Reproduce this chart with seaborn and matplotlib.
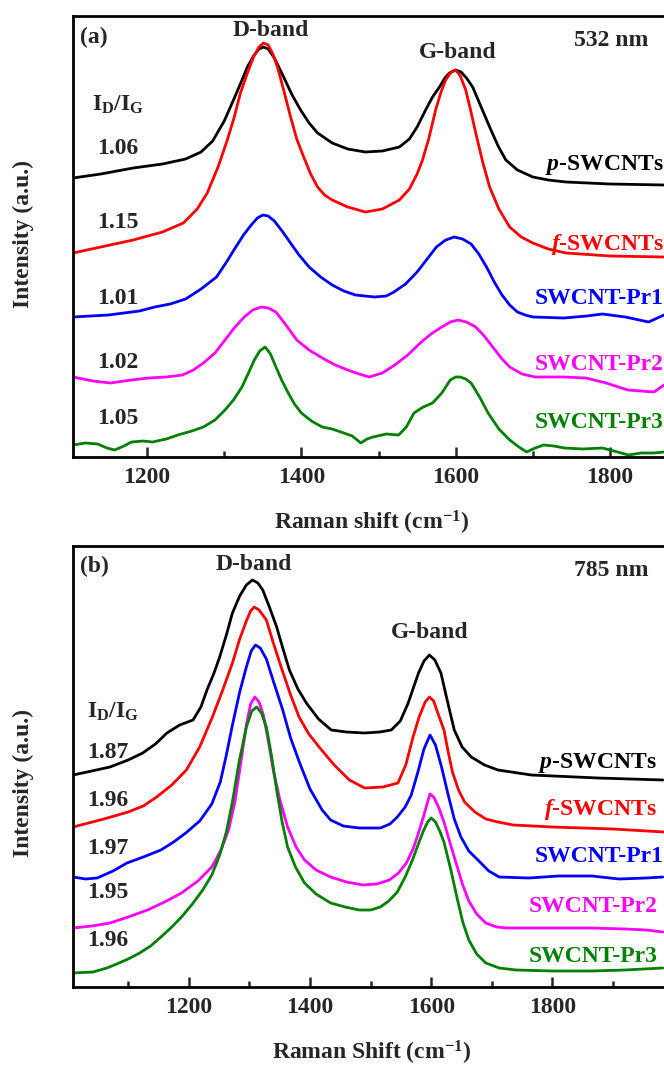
import numpy as np
import pandas as pd
import matplotlib
matplotlib.use("Agg")
import matplotlib.pyplot as plt
from matplotlib.ticker import MultipleLocator
import seaborn as sns

# ---------------- data ----------------
samples = ["p-SWCNTs", "f-SWCNTs", "SWCNT-Pr1", "SWCNT-Pr2", "SWCNT-Pr3"]
sample_labels = [r"$\mathit{p}$-SWCNTs", r"$\mathit{f}$-SWCNTs",
                 "SWCNT-Pr1", "SWCNT-Pr2", "SWCNT-Pr3"]
colors = ["#000000", "#FF0000", "#0000FF", "#FF00FF", "#008000"]

ratio_532 = ["1.06", "1.15", "1.01", "1.02", "1.05"]
ratio_785 = ["1.87", "1.96", "1.97", "1.95", "1.96"]

# 532 nm spectra (stacked intensity, a.u.)
w532_p = [1104, 1140, 1182, 1220, 1250, 1270, 1285, 1300, 1312, 1322, 1330, 1338, 1345, 1351, 1357, 1365,
          1377, 1388, 1399, 1410, 1421, 1440, 1460, 1483, 1505, 1527, 1540, 1550, 1561, 1570, 1579, 1586,
          1592, 1600, 1607, 1614, 1622, 1633, 1644, 1655, 1665, 1680, 1700, 1720, 1743, 1800, 1870]
i532_p = [279, 283, 289, 293, 298, 305, 316, 336, 357, 375, 390, 401, 408, 410, 408, 399,
          380, 362, 347, 334, 324, 314, 308, 305, 306, 310, 318, 330, 347, 360, 370, 379,
          384, 387, 385, 379, 370, 350, 330, 311, 297, 287, 280, 277, 275, 273, 272]

w532_f = [1104, 1140, 1182, 1220, 1247, 1265, 1278, 1292, 1304, 1313, 1321, 1330, 1338, 1345, 1351, 1357,
          1363, 1369, 1377, 1386, 1394, 1403, 1412, 1421, 1430, 1440, 1460, 1483, 1505, 1527, 1540, 1550,
          1557, 1565, 1574, 1581, 1587, 1594, 1600, 1606, 1613, 1619, 1626, 1635, 1644, 1656, 1670, 1685,
          1700, 1720, 1743, 1800, 1870]
i532_f = [204, 210, 217, 225, 234, 248, 264, 290, 317, 340, 364, 384, 400, 410, 414, 412,
          403, 390, 367, 340, 318, 300, 283, 270, 262, 257, 250, 245, 248, 257, 268, 283,
          297, 318, 347, 365, 377, 385, 387, 381, 367, 348, 324, 295, 270, 248, 230, 220,
          214, 208, 204, 201, 200]

w532_1 = [1104, 1150, 1190, 1210, 1230, 1250, 1270, 1290, 1303, 1315, 1325, 1335, 1343, 1350, 1357, 1365,
          1375, 1385, 1397, 1410, 1425, 1440, 1455, 1470, 1495, 1510, 1520, 1535, 1550, 1563, 1575, 1587,
          1598, 1609, 1620, 1630, 1640, 1650, 1660, 1670, 1680, 1690, 1700, 1740, 1770, 1790, 1820, 1850,
          1870]
i532_1 = [140, 142, 146, 150, 153, 158, 168, 180, 195, 210, 222, 232, 239, 242, 241, 236,
          226, 215, 202, 190, 180, 172, 166, 162, 160, 161, 165, 173, 185, 198, 210, 217,
          220, 218, 213, 203, 190, 175, 162, 152, 145, 142, 140, 139, 141, 143, 140, 135,
          142]

w532_2 = [1104, 1130, 1152, 1180, 1202, 1225, 1246, 1260, 1273, 1288, 1301, 1314, 1326, 1337, 1348, 1357,
          1367, 1380, 1394, 1410, 1427, 1444, 1460, 1475, 1488, 1505, 1521, 1538, 1554, 1568, 1582, 1593,
          1603, 1614, 1626, 1637, 1648, 1659, 1670, 1686, 1703, 1740, 1769, 1795, 1823, 1857, 1870]
i532_2 = [80, 76, 74, 77, 79, 80, 82, 87, 94, 104, 117, 130, 140, 147, 150, 149,
          145, 132, 117, 107, 99, 92, 87, 83, 80, 84, 92, 102, 114, 123, 130, 135,
          137, 135, 130, 121, 110, 99, 90, 83, 80, 80, 79, 74, 67, 65, 72]

w532_3 = [1104, 1120, 1136, 1148, 1158, 1170, 1180, 1195, 1207, 1225, 1240, 1258, 1273, 1288, 1301, 1312,
          1323, 1332, 1339, 1346, 1353, 1360, 1367, 1375, 1383, 1391, 1400, 1413, 1427, 1440, 1455, 1466,
          1477, 1485, 1493, 1510, 1526, 1536, 1546, 1558, 1570, 1582, 1593, 1600, 1606, 1613, 1620, 1631,
          1642, 1656, 1670, 1682, 1692, 1703, 1714, 1727, 1741, 1765, 1790, 1805, 1824, 1840, 1857, 1870]
i532_3 = [12, 14, 13, 9, 7, 11, 15, 16, 15, 18, 22, 26, 30, 37, 47, 57,
          70, 85, 97, 106, 110, 103, 90, 76, 64, 53, 44, 36, 30, 28, 24, 21,
          14, 18, 20, 23, 22, 30, 44, 50, 54, 64, 77, 80, 80, 78, 74, 60,
          44, 28, 17, 10, 5, 9, 12, 11, 9, 8, 9, 6, 2, 4, 4, 5]

# 785 nm spectra (stacked intensity, a.u.)
w785_p = [1009, 1040, 1070, 1100, 1124, 1145, 1164, 1185, 1207, 1220, 1230, 1241, 1251, 1262, 1272, 1284,
          1295, 1305, 1314, 1322, 1333, 1345, 1356, 1366, 1380, 1394, 1414, 1435, 1460, 1490, 1515, 1534,
          1549, 1562, 1571, 1579, 1588, 1597, 1606, 1616, 1627, 1638, 1651, 1666, 1688, 1710, 1765, 1875,
          1982]
i785_p = [212, 216, 220, 227, 234, 243, 254, 262, 267, 280, 297, 313, 330, 352, 374, 391,
          402, 407, 404, 397, 380, 360, 337, 317, 298, 284, 268, 257, 255, 254, 255, 257,
          266, 284, 300, 314, 326, 332, 327, 314, 285, 257, 240, 230, 222, 217, 212, 209,
          207]

w785_f = [1009, 1060, 1100, 1125, 1147, 1172, 1196, 1218, 1239, 1256, 1272, 1284, 1295, 1302, 1308, 1316,
          1328, 1340, 1354, 1368, 1382, 1398, 1415, 1440, 1465, 1490, 1520, 1545, 1558, 1570, 1580, 1590,
          1597, 1604, 1612, 1621, 1628, 1635, 1645, 1655, 1672, 1690, 1710, 1735, 1800, 1900, 1984]
i785_f = [160, 168, 175, 181, 190, 202, 217, 240, 270, 297, 324, 348, 366, 376, 380, 377,
          367, 343, 317, 292, 270, 253, 240, 222, 207, 199, 200, 204, 222, 250, 270, 285,
          290, 286, 272, 257, 235, 215, 197, 185, 175, 168, 165, 162, 160, 158, 155]

w785_1 = [1009, 1030, 1049, 1075, 1098, 1125, 1154, 1175, 1195, 1218, 1238, 1252, 1262, 1272, 1284, 1295,
          1303, 1310, 1318, 1328, 1340, 1355, 1368, 1383, 1400, 1420, 1434, 1455, 1481, 1516, 1532, 1544,
          1557, 1567, 1578, 1588, 1598, 1607, 1617, 1628, 1638, 1649, 1662, 1677, 1695, 1712, 1761, 1810,
          1865, 1910, 1955, 1982]
i785_1 = [110, 108, 109, 116, 124, 130, 137, 145, 154, 166, 183, 205, 232, 262, 295, 320,
          336, 342, 339, 328, 305, 277, 249, 224, 198, 177, 167, 161, 159, 159, 163, 170,
          180, 192, 215, 238, 252, 242, 220, 192, 168, 150, 136, 127, 116, 110, 109, 111,
          111, 108, 109, 110]

w785_2 = [1009, 1040, 1070, 1100, 1132, 1160, 1188, 1215, 1238, 1254, 1266, 1276, 1286, 1295, 1302, 1309,
          1316, 1323, 1330, 1340, 1350, 1363, 1377, 1391, 1410, 1434, 1460, 1488, 1510, 1531, 1546, 1559,
          1570, 1579, 1587, 1593, 1598, 1604, 1612, 1621, 1632, 1643, 1652, 1662, 1675, 1690, 1708, 1725,
          1800, 1865, 1920, 1955, 1982]
i785_2 = [59, 61, 64, 70, 77, 85, 94, 106, 120, 138, 158, 185, 225, 262, 283, 290,
          285, 272, 250, 215, 188, 160, 140, 127, 117, 110, 105, 102, 103, 107, 114, 124,
          138, 154, 170, 183, 193, 190, 180, 165, 142, 120, 102, 86, 73, 64, 60, 59,
          59, 59, 58, 57, 55]

w785_3 = [1009, 1042, 1065, 1085, 1100, 1119, 1137, 1154, 1172, 1188, 1206, 1223, 1238, 1251, 1262, 1272,
          1283, 1295, 1304, 1312, 1320, 1328, 1336, 1345, 1354, 1363, 1376, 1391, 1410, 1434, 1458, 1481,
          1500, 1516, 1530, 1544, 1557, 1569, 1580, 1587, 1594, 1600, 1607, 1614, 1621, 1632, 1643, 1652,
          1662, 1675, 1690, 1712, 1740, 1800, 1865, 1920, 1982]
i785_3 = [14, 15, 19, 24, 28, 34, 41, 50, 60, 70, 83, 97, 112, 132, 155, 185,
          225, 260, 276, 280, 274, 260, 233, 197, 165, 140, 120, 104, 93, 84, 80, 77,
          77, 80, 86, 95, 110, 127, 145, 156, 165, 169, 165, 156, 145, 118, 88, 65,
          47, 33, 24, 19, 17, 16, 16, 17, 19]

spectra_532 = [(w532_p, i532_p), (w532_f, i532_f), (w532_1, i532_1), (w532_2, i532_2), (w532_3, i532_3)]
spectra_785 = [(w785_p, i785_p), (w785_f, i785_f), (w785_1, i785_1), (w785_2, i785_2), (w785_3, i785_3)]


def to_frame(spectra):
    frames = []
    for name, (w, i) in zip(samples, spectra):
        frames.append(pd.DataFrame({"shift": w, "intensity": i, "sample": name}))
    return pd.concat(frames, ignore_index=True)


df532 = to_frame(spectra_532)
df785 = to_frame(spectra_785)

# ---------------- style ----------------
sns.set_style("ticks")
plt.rcParams["font.family"] = ["Liberation Serif", "DejaVu Serif"]
plt.rcParams["font.weight"] = "bold"
plt.rcParams["axes.labelweight"] = "bold"
plt.rcParams["mathtext.fontset"] = "custom"
plt.rcParams["mathtext.rm"] = "Liberation Serif:bold"
plt.rcParams["mathtext.it"] = "Liberation Serif:italic:bold"
plt.rcParams["mathtext.bf"] = "Liberation Serif:bold"

W, H = 664, 1066
FS = 17
fig = plt.figure(figsize=(W / 100, H / 100), dpi=100)
fig.patch.set_facecolor("white")


def px_rect(l, t, r, b):
    return [l / W, 1 - b / H, (r - l) / W, (b - t) / H]


def ftext(x, y, s, **kw):
    kw.setdefault("fontsize", FS)
    kw.setdefault("fontweight", "bold")
    kw.setdefault("va", "center")
    fig.text(x / W, 1 - y / H, s, **kw)


palette = dict(zip(samples, colors))

axes_info = [
    dict(rect=px_rect(73, 16, 664, 457), df=df532, xlim=(1104, 1870),
         xlabel=r"Raman shift (cm$^{\mathrm{-1}}$)", ylab_y=0.506),
    dict(rect=px_rect(73, 546, 664, 987), df=df785, xlim=(1009, 1984),
         xlabel=r"Raman Shift (cm$^{\mathrm{-1}}$)", ylab_y=0.4626),
]

for info in axes_info:
    ax = fig.add_axes(info["rect"])
    sns.lineplot(data=info["df"], x="shift", y="intensity", hue="sample",
                 palette=palette, estimator=None, legend=False, linewidth=2.0, ax=ax)
    ax.set_xlim(*info["xlim"])
    ax.set_ylim(0, 441)
    ax.set_yticks([])
    ax.xaxis.set_major_locator(MultipleLocator(200))
    ax.xaxis.set_minor_locator(MultipleLocator(100))
    ax.tick_params(axis="x", which="major", direction="in", length=7, width=1.8,
                   labelsize=FS, pad=7, top=False)
    ax.tick_params(axis="x", which="minor", direction="in", length=4, width=1.8, top=False)
    for lab in ax.get_xticklabels():
        lab.set_fontweight("bold")
    for side in ["left", "bottom", "top"]:
        ax.spines[side].set_linewidth(2.0)
        ax.spines[side].set_color("black")
    ax.spines["right"].set_visible(False)
    ax.set_xlabel(info["xlabel"], fontsize=FS, fontweight="bold")
    ax.xaxis.label.set_va("center")
    ax.xaxis.set_label_coords(0.505, -66 / 441)
    ax.set_ylabel("Intensity (a.u.)", fontsize=FS, fontweight="bold")
    ax.yaxis.label.set_va("center")
    ax.yaxis.set_label_coords(-50 / 591, info["ylab_y"])

# ---------------- annotations ----------------
# panel (a)
ftext(80, 37, "(a)")
ftext(271, 30, "D-band", ha="center")
ftext(458, 52, "G-band", ha="center")
ftext(574, 41, "532 nm")
ftext(92, 105, r"$\mathrm{I_D/I_G}$")
ratio_y_a = [148, 222, 298, 362, 418]
right_y_a = [165, 245, 298, 365, 423]
right_x_a = [664, 664, 664, 664, 664]
for r, y in zip(ratio_532, ratio_y_a):
    ftext(97, y, r)
for lab, c, x, y in zip(sample_labels, colors, right_x_a, right_y_a):
    ftext(x, y, lab, ha="right", color=c)

# panel (b)
ftext(80, 566, "(b)")
ftext(254, 565, "D-band", ha="center")
ftext(430, 633, "G-band", ha="center")
ftext(574, 571, "785 nm")
ftext(87, 712, r"$\mathrm{I_D/I_G}$")
ratio_y_b = [752, 800, 848, 893, 940]
right_y_b = [763, 810, 857, 907, 957]
right_x_b = [657, 657, 664, 658, 658]
for r, y in zip(ratio_785, ratio_y_b):
    ftext(87, y, r)
for lab, c, x, y in zip(sample_labels, colors, right_x_b, right_y_b):
    ftext(x, y, lab, ha="right", color=c)

fig.savefig("out.png", dpi=100, facecolor="white")
